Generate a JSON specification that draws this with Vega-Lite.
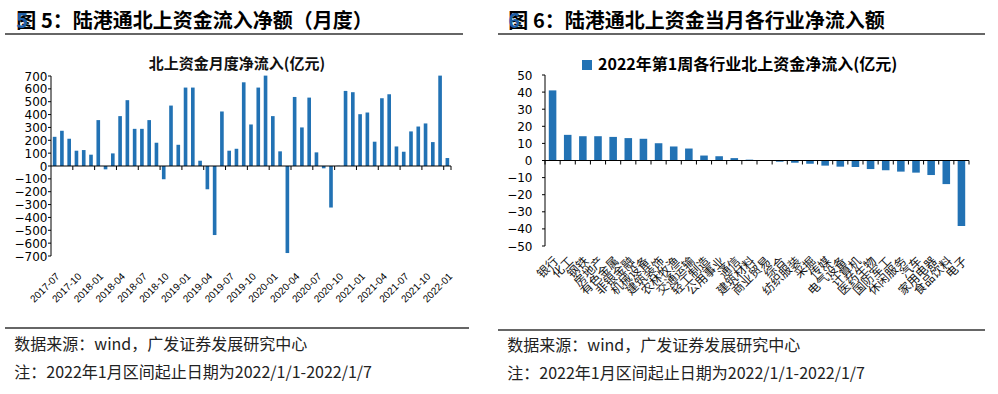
{
  "$schema": "https://vega.github.io/schema/vega-lite/v6.json",
  "background": "white",
  "padding": {"left": 4, "top": 12, "right": 0, "bottom": 0},
  "config": {
    "view": {"stroke": null},
    "font": "Noto Sans CJK SC",
    "title": {"font": "Noto Sans CJK SC"}
  },
  "datasets": {
    "monthly": [
      {"month": "2017-07", "value": 227}, {"month": "2017-08", "value": 274}, {"month": "2017-09", "value": 212},
      {"month": "2017-10", "value": 119}, {"month": "2017-11", "value": 124}, {"month": "2017-12", "value": 88},
      {"month": "2018-01", "value": 357}, {"month": "2018-02", "value": -26}, {"month": "2018-03", "value": 98},
      {"month": "2018-04", "value": 388}, {"month": "2018-05", "value": 512}, {"month": "2018-06", "value": 289},
      {"month": "2018-07", "value": 289}, {"month": "2018-08", "value": 357}, {"month": "2018-09", "value": 181},
      {"month": "2018-10", "value": -103}, {"month": "2018-11", "value": 470}, {"month": "2018-12", "value": 165},
      {"month": "2019-01", "value": 610}, {"month": "2019-02", "value": 610}, {"month": "2019-03", "value": 41},
      {"month": "2019-04", "value": -181}, {"month": "2019-05", "value": -537}, {"month": "2019-06", "value": 424},
      {"month": "2019-07", "value": 119}, {"month": "2019-08", "value": 134}, {"month": "2019-09", "value": 651},
      {"month": "2019-10", "value": 323}, {"month": "2019-11", "value": 610}, {"month": "2019-12", "value": 703},
      {"month": "2020-01", "value": 388}, {"month": "2020-02", "value": 114}, {"month": "2020-03", "value": -677},
      {"month": "2020-04", "value": 537}, {"month": "2020-05", "value": 300}, {"month": "2020-06", "value": 532},
      {"month": "2020-07", "value": 106}, {"month": "2020-08", "value": -18}, {"month": "2020-09", "value": -323},
      {"month": "2020-10", "value": 2}, {"month": "2020-11", "value": 584}, {"month": "2020-12", "value": 574},
      {"month": "2021-01", "value": 403}, {"month": "2021-02", "value": 416}, {"month": "2021-03", "value": 189},
      {"month": "2021-04", "value": 527}, {"month": "2021-05", "value": 558}, {"month": "2021-06", "value": 152},
      {"month": "2021-07", "value": 111}, {"month": "2021-08", "value": 269}, {"month": "2021-09", "value": 307},
      {"month": "2021-10", "value": 331}, {"month": "2021-11", "value": 186}, {"month": "2021-12", "value": 703},
      {"month": "2022-01", "value": 62}
    ],
    "industry": [
      {"industry": "银行", "value": 41.0}, {"industry": "化工", "value": 15.0}, {"industry": "钢铁", "value": 14.2},
      {"industry": "房地产", "value": 14.2}, {"industry": "有色金属", "value": 13.8}, {"industry": "非银金融", "value": 13.1},
      {"industry": "机械设备", "value": 12.7}, {"industry": "建筑装饰", "value": 10.1}, {"industry": "农林牧渔", "value": 8.2},
      {"industry": "交通运输", "value": 7.0}, {"industry": "轻工制造", "value": 2.9}, {"industry": "公用事业", "value": 2.5},
      {"industry": "通信", "value": 1.4}, {"industry": "建筑材料", "value": 0.5}, {"industry": "商业贸易", "value": 0.1},
      {"industry": "综合", "value": -0.7}, {"industry": "纺织服装", "value": -1.3}, {"industry": "采掘", "value": -1.9},
      {"industry": "传媒", "value": -3.0}, {"industry": "电气设备", "value": -3.6}, {"industry": "计算机", "value": -3.8},
      {"industry": "医药生物", "value": -5.0}, {"industry": "国防军工", "value": -5.7}, {"industry": "休闲服务", "value": -6.5},
      {"industry": "汽车", "value": -7.1}, {"industry": "家用电器", "value": -8.5}, {"industry": "食品饮料", "value": -13.8},
      {"industry": "电子", "value": -38.3}
    ],
    "leftTicks": [
      {"v": -700}, {"v": -600}, {"v": -500}, {"v": -400}, {"v": -300}, {"v": -200}, {"v": -100}, {"v": 0},
      {"v": 100}, {"v": 200}, {"v": 300}, {"v": 400}, {"v": 500}, {"v": 600}, {"v": 700}
    ],
    "rightTicks": [
      {"v": -50}, {"v": -40}, {"v": -30}, {"v": -20}, {"v": -10}, {"v": 0}, {"v": 10}, {"v": 20}, {"v": 30}, {"v": 40}, {"v": 50}
    ]
  },
  "spacing": 27,
  "resolve": {"scale": {"color": "independent"}, "legend": {"color": "independent"}},
  "hconcat": [
    {
      "spacing": 22,
      "vconcat": [
        {
          "width": 458, "height": 1,
          "data": {"values": [{"rule": "header"}]},
          "title": {
            "text": "图 5：陆港通北上资金流入净额（月度）",
            "subtitle": "　 5",
            "anchor": "start", "dx": 12, "offset": 1,
            "fontSize": 20, "fontWeight": "bold", "color": "#000",
            "subtitleFont": "Noto Sans CJK SC", "subtitleFontSize": 20, "subtitleFontWeight": "bold",
            "subtitleColor": "#1F5FA8", "subtitlePadding": -20
          },
          "mark": {"type": "rule", "color": "#333", "strokeWidth": 1.3},
          "encoding": {"y": {"datum": 1, "type": "quantitative", "scale": {"domain": [0, 1]}, "axis": null}}
        },
        {
          "width": 446, "height": 180,
          "title": {"text": "北上资金月度净流入(亿元)", "fontSize": 15, "fontWeight": "bold", "offset": -2, "dx": 9, "color": "#111"},
          "resolve": {"axis": {"x": "independent", "y": "independent"}},
          "layer": [
            {
              "data": {"name": "monthly"},
              "mark": {"type": "bar", "color": "#2272B4", "width": {"band": 0.5}},
              "encoding": {
                "x": {
                  "field": "month", "type": "ordinal", "sort": null,
                  "scale": {"paddingInner": 0, "paddingOuter": 0, "range": [46, 446]},
                  "axis": {
                    "orient": "bottom", "title": null, "domain": false, "ticks": false, "tickSize": 0,
                    "labelAngle": -45, "labelFont": "Liberation Sans", "labelFontSize": 10, "labelColor": "#000",
                    "labelPadding": 15, "labelOverlap": false, "labelBound": false,
                    "minExtent": 49, "maxExtent": 49,
                    "values": ["2017-07","2017-10","2018-01","2018-04","2018-07","2018-10","2019-01","2019-04","2019-07","2019-10","2020-01","2020-04","2020-07","2020-10","2021-01","2021-04","2021-07","2021-10","2022-01"]
                  }
                },
                "y": {
                  "field": "value", "type": "quantitative",
                  "scale": {"domain": [-700, 700], "nice": false},
                  "axis": {
                    "orient": "left", "title": null, "grid": false, "offset": -46, "domain": false, "ticks": false, "tickSize": 0,
                    "labelFont": "DejaVu Sans", "labelFontSize": 12, "labelColor": "#000", "labelPadding": 4,
                    "labelOverlap": false,
                    "values": [-700,-600,-500,-400,-300,-200,-100,0,100,200,300,400,500,600,700]
                  }
                }
              }
            },
            {
              "data": {"values": [{"guide": "y axis line"}]},
              "mark": {"type": "rule", "color": "#000", "strokeWidth": 1},
              "encoding": {
                "x": {"datum": "2017-07", "type": "ordinal", "bandPosition": 0, "axis": null},
                "y": {"datum": -700, "type": "quantitative", "axis": null},
                "y2": {"datum": 700}
              }
            },
            {
              "data": {"values": [{"guide": "zero line"}]},
              "mark": {"type": "rule", "color": "#000", "strokeWidth": 1},
              "encoding": {
                "x": {"datum": "2017-07", "type": "ordinal", "bandPosition": 0, "axis": null},
                "x2": {"datum": "2022-01", "bandPosition": 1},
                "y": {"datum": 0, "type": "quantitative", "axis": null}
              }
            },
            {
              "data": {"name": "monthly"},
              "transform": [{"filter": {"field": "month", "oneOf": ["2017-10","2018-01","2018-04","2018-07","2018-10","2019-01","2019-04","2019-07","2019-10","2020-01","2020-04","2020-07","2020-10","2021-01","2021-04","2021-07","2021-10","2022-01"]}}],
              "mark": {"type": "rule", "color": "#000", "strokeWidth": 1, "y2Offset": 4},
              "encoding": {
                "x": {"field": "month", "type": "ordinal", "bandPosition": 0, "axis": null},
                "y": {"datum": 0, "type": "quantitative", "axis": null},
                "y2": {"datum": 0}
              }
            },
            {
              "data": {"values": [{"guide": "axis end tick"}]},
              "mark": {"type": "rule", "color": "#000", "strokeWidth": 1, "y2Offset": 4},
              "encoding": {
                "x": {"datum": "2022-01", "type": "ordinal", "bandPosition": 1, "axis": null},
                "y": {"datum": 0, "type": "quantitative", "axis": null},
                "y2": {"datum": 0}
              }
            },
            {
              "data": {"name": "leftTicks"},
              "mark": {"type": "rule", "color": "#000", "strokeWidth": 1, "x2Offset": -3},
              "encoding": {
                "y": {"field": "v", "type": "quantitative", "axis": null},
                "x": {"datum": "2017-07", "type": "ordinal", "bandPosition": 0, "axis": null},
                "x2": {"datum": "2017-07", "bandPosition": 0}
              }
            }
          ]
        },
        {
          "width": 464, "height": 1,
          "data": {"values": [{"rule": "footer"}]},
          "title": {
            "text": ["数据来源：wind，广发证券发展研究中心", "注：2022年1月区间起止日期为2022/1/1-2022/1/7"],
            "orient": "bottom", "anchor": "start", "dx": 10, "offset": 8,
            "fontSize": 16, "fontWeight": "normal", "lineHeight": 28, "color": "#222", "baseline": "top"
          },
          "mark": {"type": "rule", "color": "#333", "strokeWidth": 1.3},
          "encoding": {"y": {"datum": 1, "type": "quantitative", "scale": {"domain": [0, 1]}, "axis": null}}
        }
      ]
    },
    {
      "spacing": 22,
      "resolve": {"scale": {"color": "independent"}, "legend": {"color": "independent"}},
      "vconcat": [
        {
          "width": 487, "height": 1,
          "data": {"values": [{"rule": "header"}]},
          "title": {
            "text": "图 6：陆港通北上资金当月各行业净流入额",
            "subtitle": "　 6",
            "anchor": "start", "dx": 11, "offset": 1,
            "fontSize": 20, "fontWeight": "bold", "color": "#000",
            "subtitleFont": "Noto Sans CJK SC", "subtitleFontSize": 20, "subtitleFontWeight": "bold",
            "subtitleColor": "#1F5FA8", "subtitlePadding": -20
          },
          "mark": {"type": "rule", "color": "#333", "strokeWidth": 1.3},
          "encoding": {"y": {"datum": 1, "type": "quantitative", "scale": {"domain": [0, 1]}, "axis": null}}
        },
        {
          "width": 471, "height": 171,
          "resolve": {"axis": {"x": "independent", "y": "independent"}},
          "layer": [
            {
              "data": {"name": "industry"},
              "mark": {"type": "bar", "width": {"band": 0.5}},
              "encoding": {
                "x": {
                  "field": "industry", "type": "nominal", "sort": null,
                  "scale": {
                    "paddingInner": 0, "paddingOuter": 0, "range": [47, 471],
                    "domain": ["银行","化工","钢铁","房地产","有色金属","非银金融","机械设备","建筑装饰","农林牧渔","交通运输","轻工制造","公用事业","通信","建筑材料","商业贸易","综合","纺织服装","采掘","传媒","电气设备","计算机","医药生物","国防军工","休闲服务","汽车","家用电器","食品饮料","电子"]
                  },
                  "axis": {
                    "orient": "bottom", "title": null, "domain": false, "ticks": false, "tickSize": 0,
                    "labelAngle": -45, "labelFont": "Noto Sans CJK SC", "labelFontSize": 12, "labelColor": "#111",
                    "labelPadding": 9, "labelOverlap": false, "labelBound": false, "labelLimit": 0,
                    "minExtent": 61, "maxExtent": 61
                  }
                },
                "y": {
                  "field": "value", "type": "quantitative",
                  "scale": {"domain": [-50, 50], "nice": false},
                  "axis": {
                    "orient": "left", "title": null, "grid": false, "offset": -47, "domain": false, "ticks": false, "tickSize": 0,
                    "labelFont": "DejaVu Sans", "labelFontSize": 12, "labelColor": "#000", "labelPadding": 13,
                    "labelOverlap": false,
                    "values": [-50,-40,-30,-20,-10,0,10,20,30,40,50]
                  }
                },
                "color": {
                  "datum": "2022年第1周各行业北上资金净流入(亿元)",
                  "scale": {"range": ["#2272B4"]},
                  "legend": {
                    "orient": "none", "legendX": 81, "legendY": -18, "title": null,
                    "symbolType": "square", "symbolSize": 100, "symbolStrokeWidth": 0,
                    "labelFont": "Noto Sans CJK SC", "labelFontSize": 16, "labelFontWeight": "bold",
                    "labelColor": "#000", "labelLimit": 0, "labelOffset": 3
                  }
                }
              }
            },
            {
              "data": {"values": [{"guide": "y axis line"}]},
              "mark": {"type": "rule", "color": "#000", "strokeWidth": 1},
              "encoding": {
                "x": {"datum": "银行", "type": "nominal", "bandPosition": 0, "axis": null},
                "y": {"datum": -50, "type": "quantitative", "axis": null},
                "y2": {"datum": 50}
              }
            },
            {
              "data": {"values": [{"guide": "zero line"}]},
              "mark": {"type": "rule", "color": "#000", "strokeWidth": 1},
              "encoding": {
                "x": {"datum": "银行", "type": "nominal", "bandPosition": 0, "axis": null},
                "x2": {"datum": "电子", "bandPosition": 1},
                "y": {"datum": 0, "type": "quantitative", "axis": null}
              }
            },
            {
              "data": {"name": "industry"},
              "mark": {"type": "rule", "color": "#000", "strokeWidth": 1, "y2Offset": 4},
              "encoding": {
                "x": {"field": "industry", "type": "nominal", "bandPosition": 0, "axis": null},
                "y": {"datum": 0, "type": "quantitative", "axis": null},
                "y2": {"datum": 0}
              }
            },
            {
              "data": {"values": [{"guide": "axis end tick"}]},
              "mark": {"type": "rule", "color": "#000", "strokeWidth": 1, "y2Offset": 4},
              "encoding": {
                "x": {"datum": "电子", "type": "nominal", "bandPosition": 1, "axis": null},
                "y": {"datum": 0, "type": "quantitative", "axis": null},
                "y2": {"datum": 0}
              }
            },
            {
              "data": {"name": "rightTicks"},
              "mark": {"type": "rule", "color": "#000", "strokeWidth": 1, "x2Offset": -3},
              "encoding": {
                "y": {"field": "v", "type": "quantitative", "axis": null},
                "x": {"datum": "银行", "type": "nominal", "bandPosition": 0, "axis": null},
                "x2": {"datum": "银行", "bandPosition": 0}
              }
            }
          ]
        },
        {
          "width": 487, "height": 1,
          "data": {"values": [{"rule": "footer"}]},
          "title": {
            "text": ["数据来源：wind，广发证券发展研究中心", "注：2022年1月区间起止日期为2022/1/1-2022/1/7"],
            "orient": "bottom", "anchor": "start", "dx": 10, "offset": 7,
            "fontSize": 16, "fontWeight": "normal", "lineHeight": 28, "color": "#222", "baseline": "top"
          },
          "mark": {"type": "rule", "color": "#333", "strokeWidth": 1.3},
          "encoding": {"y": {"datum": 1, "type": "quantitative", "scale": {"domain": [0, 1]}, "axis": null}}
        }
      ]
    }
  ]
}
